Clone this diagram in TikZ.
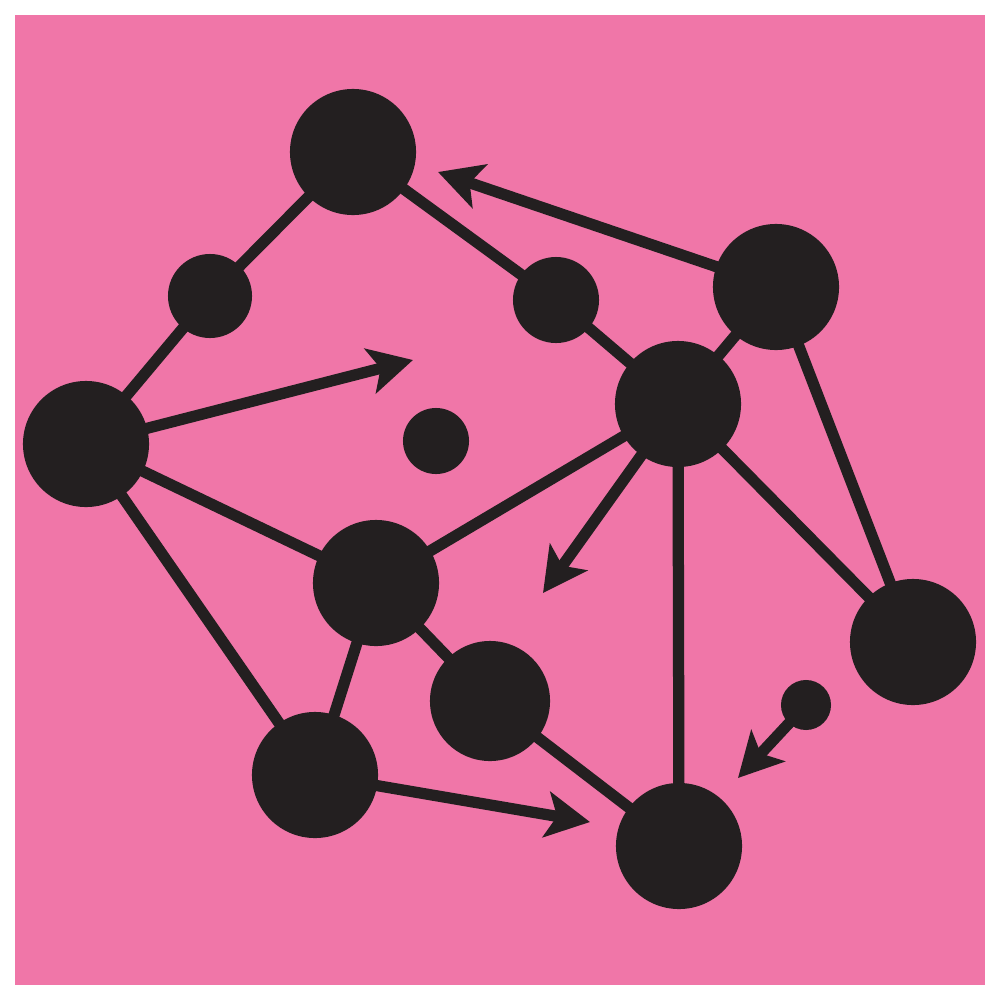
\documentclass[tikz,border=0pt]{standalone}
\usepackage{xcolor}
\usepackage{tikz}
\usetikzlibrary{arrows.meta,backgrounds}
\definecolor{bgpink}{RGB}{240,118,168}
\definecolor{ink}{RGB}{35,31,32}

\begin{document}
\begin{tikzpicture}[x=0.01cm,y=-0.01cm,
  atom/.style={circle,fill=ink,inner sep=0pt,minimum size=#1},
  bond/.style={draw=ink,line width=3.2pt},
  push/.style={bond,-{Stealth[length=12.5pt,width=13pt,inset=3pt]}}]
\useasboundingbox (0,0) rectangle (1000,1000);
\node[atom=1.26cm] (A) at (353,152) {};
\node[atom=0.84cm] (B) at (210,296) {};
\node[atom=1.26cm] (C) at (86,444) {};
\node[atom=0.86cm] (D) at (556,300) {};
\node[atom=1.26cm] (E) at (776,287) {};
\node[atom=1.26cm] (F) at (678,404) {};
\node[atom=0.66cm] (G) at (436,441) {};
\node[atom=1.26cm] (H) at (376,583) {};
\node[atom=1.26cm] (I) at (913,642) {};
\node[atom=1.20cm] (J) at (490,701) {};
\node[atom=1.26cm] (K) at (315,775) {};
\node[atom=1.26cm] (L) at (679,846) {};
\node[atom=0.50cm] (M) at (806,705) {};
\coordinate (tC) at (413,360);
\coordinate (tE) at (438,172);
\coordinate (tF) at (543,593);
\coordinate (tK) at (590,822);
\coordinate (tM) at (738,778);
\begin{scope}[on background layer]
\fill[bgpink] (15,15) rectangle (985,985);
\draw[bond] (A.center) -- (B.center) ;
\draw[bond] (B.center) -- (C.center) ;
\draw[bond] (A.center) -- (D.center) ;
\draw[bond] (D.center) -- (F.center) ;
\draw[bond] (E.center) -- (F.center) ;
\draw[bond] (E.center) -- (I.center) ;
\draw[bond] (F.center) -- (I.center) ;
\draw[bond] (F.center) -- (L.center) ;
\draw[bond] (F.center) -- (H.center) ;
\draw[bond] (C.center) -- (H.center) ;
\draw[bond] (C.center) -- (K.center) ;
\draw[bond] (H.center) -- (K.center) ;
\draw[bond] (H.center) -- (J.center) ;
\draw[bond] (J.center) -- (L.center) ;
\draw[push] (C.center) -- (tC) ;
\draw[push] (E.center) -- (tE) ;
\draw[push] (F.center) -- (tF) ;
\draw[push] (K.center) -- (tK) ;
\draw[push] (M.center) -- (tM) ;
\end{scope}
\end{tikzpicture}
\end{document}
